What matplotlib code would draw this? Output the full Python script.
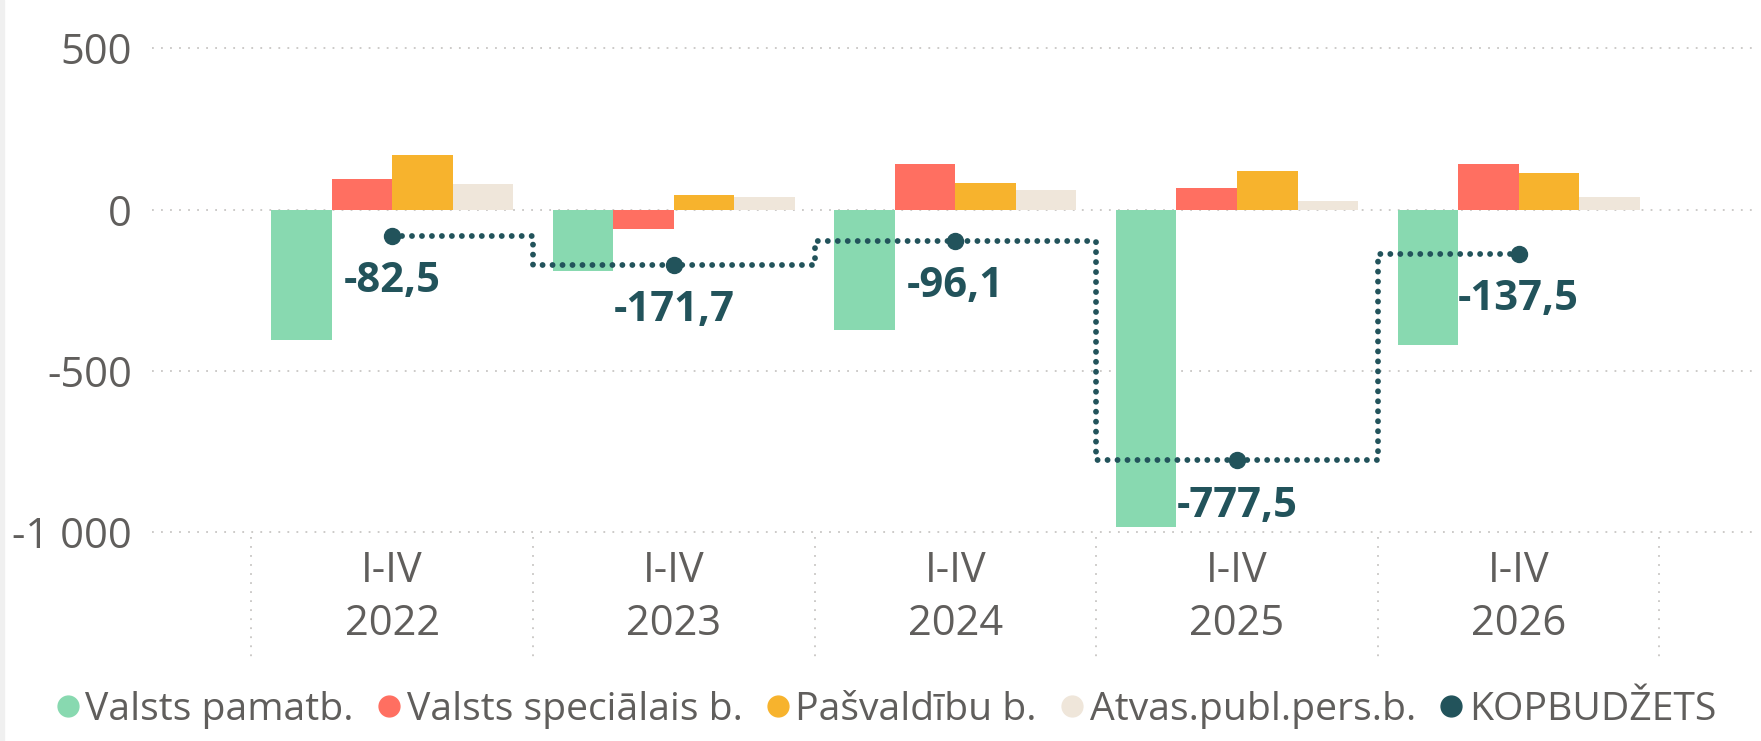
import matplotlib.pyplot as plt
import matplotlib.transforms as mtransforms
import numpy as np
from matplotlib.lines import Line2D
from matplotlib.patches import Rectangle

plt.rcParams['font.family'] = ['Open Sans', 'DejaVu Sans']

# data
periods = ["I-IV\n2022", "I-IV\n2023", "I-IV\n2024", "I-IV\n2025", "I-IV\n2026"]
valsts_pamatb = [-405, -192, -372, -984, -421]
valsts_specialais = [94, -60, 141, 67, 141]
pasvaldibu = [168, 45, 83, 119, 113]
atvas_publ = [79, 39, 61, 27, 39]
kopbudzets = [-82.5, -171.7, -96.1, -777.5, -137.5]

series_names = ["Valsts pamatb.", "Valsts speciālais b.", "Pašvaldību b.", "Atvas.publ.pers.b."]
line_name = "KOPBUDŽETS"
yticks = [500, 0, -500, -1000]
ytick_labels = ["500", "0", "-500", "-1 000"]

colors = ["#88D9B0", "#FF6F61", "#F7B32D", "#EFE6DA"]
line_color = "#22535B"
text_gray = "#605E5C"
grid_gray = "#C8C6C4"

fig = plt.figure(figsize=(17.61, 7.41), dpi=100)
fig.patches.append(Rectangle((0, 0), 0.002, 1, transform=fig.transFigure, color="#F0F0F0"))
ax = fig.add_axes([0.0861, 0.282, 0.909, 0.6528])

x = np.arange(len(periods))
w = 0.215
for i, vals in enumerate([valsts_pamatb, valsts_specialais, pasvaldibu, atvas_publ]):
    ax.bar(x + (i - 1.5) * w, vals, w, color=colors[i], zorder=2)

# step line + points
ax.plot(x, kopbudzets, drawstyle='steps-mid', color=line_color, lw=4.2,
        linestyle=(0, (0.01, 1.7)), dash_capstyle='round', zorder=3)
ax.plot(x, kopbudzets, 'o', ms=11.5, color=line_color, zorder=4)
for xi, v in zip(x, kopbudzets):
    ax.annotate(f"{v:.1f}".replace('.', ','), (xi, v), xytext=(0, -33), textcoords='offset points',
                ha='center', va='center', fontsize=30, fontweight='bold', color=line_color, zorder=5)

ax.set_xlim(-0.854, 4.83)
ax.set_ylim(-1000, 500)
ax.set_yticks(yticks)
ax.set_yticklabels(ytick_labels, fontsize=30, color=text_gray)
ax.set_xticks(x)
ax.set_xticklabels(periods, fontsize=30, color=text_gray, linespacing=1.35)
ax.tick_params(axis='y', length=0, pad=14)
ax.tick_params(axis='x', length=0, pad=13)
ax.yaxis.grid(True, linestyle=(0, (1, 4)), color=grid_gray, lw=1.3)
for gl in ax.get_ygridlines():
    gl.set_clip_on(False)
ax.set_axisbelow(True)
for s in ax.spines.values():
    s.set_visible(False)

# category separators under the axis
trans = mtransforms.blended_transform_factory(ax.transData, ax.transAxes)
for b in np.arange(-0.5, len(periods), 1):
    ax.plot([b, b], [-0.01, -0.258], transform=trans, clip_on=False,
            linestyle=(0, (1, 4)), color=grid_gray, lw=1.3)

handles = [Line2D([], [], marker='o', linestyle='none', markersize=15, color=c) for c in colors]
handles.append(Line2D([], [], marker='o', linestyle='none', markersize=15, color=line_color))
fig.legend(handles, series_names + [line_name], loc='center', bbox_to_anchor=(0.502, 0.042),
           ncol=5, frameon=False, fontsize=28.2, handletextpad=0.05, columnspacing=0.5,
           labelcolor=text_gray, handlelength=0.8)

fig.savefig('out.png', dpi=100)
